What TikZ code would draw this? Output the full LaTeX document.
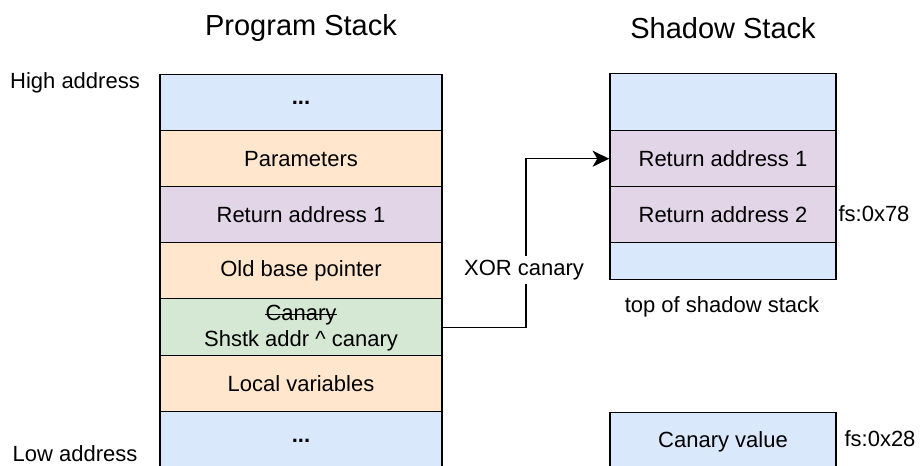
\documentclass[tikz,border=0pt]{standalone}
\usepackage{fontspec}
\setmainfont{Liberation Sans}
\usetikzlibrary{arrows.meta}
\definecolor{cellblue}{HTML}{DAE8FC}
\definecolor{cellorange}{HTML}{FFE6CC}
\definecolor{cellpurple}{HTML}{E1D5E7}
\definecolor{cellgreen}{HTML}{D5E8D4}
\tikzset{
  cell/.style={draw=black, line width=1.1pt, rectangle, inner sep=0pt, anchor=north,
               font=\fontsize{16.5}{20}\selectfont, align=center},
  pcell/.style={cell, minimum width=282*0.75pt},
  scell/.style={cell, minimum width=226*0.75pt},
  lbl/.style={font=\fontsize{16.5}{20}\selectfont, inner sep=1pt},
  title/.style={font=\fontsize{21.75}{26}\selectfont, inner sep=0pt},
  link/.style={line width=1.1pt, -{Stealth[length=12.5pt,width=12pt,inset=3.5pt]}}
}
\begin{document}
\begin{tikzpicture}[x=0.75pt, y=-0.75pt]
\useasboundingbox (0,0) rectangle (921,465);

% titles
\node[title] (ptitle) at (301,28) {Program Stack};
\node[title] (stitle) at (723,28) {Shadow Stack};

% program stack, high addresses on top
\node[pcell, fill=cellblue,   minimum height=56*0.75pt] (pdots1) at (301,74)  {\textbf{...}};
\node[pcell, fill=cellorange, minimum height=56*0.75pt] (pparam) at (301,130) {Parameters};
\node[pcell, fill=cellpurple, minimum height=56*0.75pt] (pret)   at (301,186) {Return address 1};
\node[pcell, fill=cellorange, minimum height=56*0.75pt] (pbp)    at (301,242) {Old base pointer};
\node[pcell, fill=cellgreen,  minimum height=57*0.75pt] (pcan)   at (301,298) {};
\node[pcell, fill=cellorange, minimum height=56*0.75pt] (plocal) at (301,355) {Local variables};
\node[pcell, fill=cellblue,   minimum height=58*0.75pt] (pdots2) at (301,411) {\textbf{...}};

% two lines of the canary slot, the old word struck out
\node[lbl, inner sep=0pt] (canword) at (301,315) {Canary};
\node[lbl, inner sep=0pt] (shstk)   at (301,341) {Shstk addr \^{} canary};
\draw[line width=0.8pt] ([yshift=4.3pt]canword.base west) -- ([yshift=4.3pt]canword.base east);

% address direction labels
\node[lbl] (high) at (75,83)  {High address};
\node[lbl] (low)  at (75,454) {Low address};

% shadow stack
\node[scell, fill=cellblue,   minimum height=57*0.75pt] (stop)  at (723,73)  {};
\node[scell, fill=cellpurple, minimum height=56*0.75pt] (sret1) at (723,130) {Return address 1};
\node[scell, fill=cellpurple, minimum height=56*0.75pt] (sret2) at (723,186) {Return address 2};
\node[scell, fill=cellblue,   minimum height=37*0.75pt] (sbot)  at (723,242) {};
\node[lbl] (fs78) at (874,214) {fs:0x78};
\node[lbl] (toplbl) at (722,307) {top of shadow stack};

% canary value slot
\node[scell, fill=cellblue, minimum height=58*0.75pt] (cval) at (723,412) {Canary value};
\node[lbl] (fs28) at (880,439) {fs:0x28};

% link from the stored canary to the shadow stack entry
\coordinate (bend) at (526,327);
\draw[link] (pcan.east) -- (pcan.east -| bend) |- (sret1.west);
\node[lbl, fill=white, inner sep=3pt] (xorlbl) at (524,270) {XOR canary};
\end{tikzpicture}
\end{document}
